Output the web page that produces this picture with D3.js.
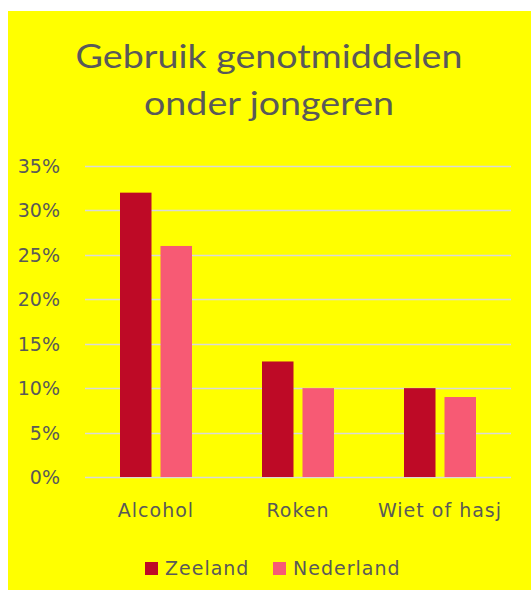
<!DOCTYPE html>
<html>
<head>
<meta charset="utf-8">
<script src="https://cdn.jsdelivr.net/npm/d3@7"></script>
<style>
    html, body { margin: 0; padding: 0; background: #ffffff; }
    svg { display: block; }
    .axis-label { font-family: "DejaVu Sans", sans-serif; font-size: 19px; fill: #595959; }
    .cat-label { font-family: "DejaVu Sans", sans-serif; font-size: 19px; fill: #595959; letter-spacing: 1px; }
    .chart-title { font-family: Lato, sans-serif; font-size: 33px; fill: #595959; }
</style>
</head>
<body>
<div id="chart"></div>
<script>
const categories = ["Alcohol", "Roken", "Wiet of hasj"];
const seriesNames = ["Zeeland", "Nederland"];
const zeelandValues = [0.32, 0.13, 0.10];
const nederlandValues = [0.26, 0.10, 0.09];
const yTicks = [0, 0.05, 0.10, 0.15, 0.20, 0.25, 0.30, 0.35];
const titleLines = ["Gebruik genotmiddelen", "onder jongeren"];

const colors = { Zeeland: "#BE0A26", Nederland: "#F75A74" };
const width = 531, height = 590;

const svg = d3.select("#chart")
    .append("svg")
    .attr("width", width)
    .attr("height", height);

// yellow chart area
svg.append("rect")
    .attr("x", 8).attr("y", 11)
    .attr("width", width - 8).attr("height", height - 11)
    .attr("fill", "#FFFF00");

// title is a bit stretched sideways in the original
svg.selectAll(".title-line")
    .data(titleLines)
    .enter()
    .append("g")
    .attr("class", "title-line")
    .attr("transform", (d, i) => `translate(269,${68 + i * 47}) scale(1.14,1)`)
    .append("text")
    .attr("class", "chart-title")
    .attr("text-anchor", "middle")
    .text(d => d);

const x0 = d3.scaleBand()
    .domain(categories)
    .range([85, 511])
    .paddingInner(0.493)
    .paddingOuter(0.2465);

const x1 = d3.scaleBand()
    .domain(seriesNames)
    .range([0, x0.bandwidth()])
    .paddingInner(0.222);

const y = d3.scaleLinear()
    .domain([0, 0.35])
    .range([477, 166]);

// gridlines
svg.append("g")
    .selectAll("line")
    .data(yTicks)
    .enter()
    .append("line")
    .attr("x1", 85).attr("x2", 511)
    .attr("y1", d => Math.round(y(d)) + 0.5)
    .attr("y2", d => Math.round(y(d)) + 0.5)
    .attr("stroke", "#D9D9D9")
    .attr("stroke-width", 1.5);

svg.append("g")
    .selectAll("text")
    .data(yTicks)
    .enter()
    .append("text")
    .attr("class", "axis-label")
    .attr("text-anchor", "end")
    .attr("x", 60)
    .attr("y", d => y(d) + 7)
    .text(d => d3.format(".0%")(d));

const rows = categories.map((c, i) => ({
    category: c,
    values: [
        { name: "Zeeland", value: zeelandValues[i] },
        { name: "Nederland", value: nederlandValues[i] }
    ]
}));

svg.append("g")
    .selectAll("g")
    .data(rows)
    .enter()
    .append("g")
    .attr("transform", d => `translate(${x0(d.category)},0)`)
    .selectAll("rect")
    .data(d => d.values)
    .enter()
    .append("rect")
    .attr("x", d => x1(d.name))
    .attr("y", d => y(d.value))
    .attr("width", x1.bandwidth())
    .attr("height", d => y(0) - y(d.value))
    .attr("fill", d => colors[d.name]);

svg.append("g")
    .selectAll("text")
    .data(categories)
    .enter()
    .append("text")
    .attr("class", "cat-label")
    .attr("text-anchor", "middle")
    .attr("x", d => x0(d) + x0.bandwidth() / 2)
    .attr("y", 517)
    .text(d => d);

// legend
const legendX = [145, 273];
const legend = svg.append("g")
    .selectAll("g")
    .data(seriesNames)
    .enter()
    .append("g")
    .attr("transform", (d, i) => `translate(${legendX[i]},562)`);

legend.append("rect")
    .attr("width", 13).attr("height", 13)
    .attr("fill", d => colors[d]);

legend.append("text")
    .attr("class", "cat-label")
    .attr("x", 20)
    .attr("y", 13)
    .text(d => d);
</script>
</body>
</html>
